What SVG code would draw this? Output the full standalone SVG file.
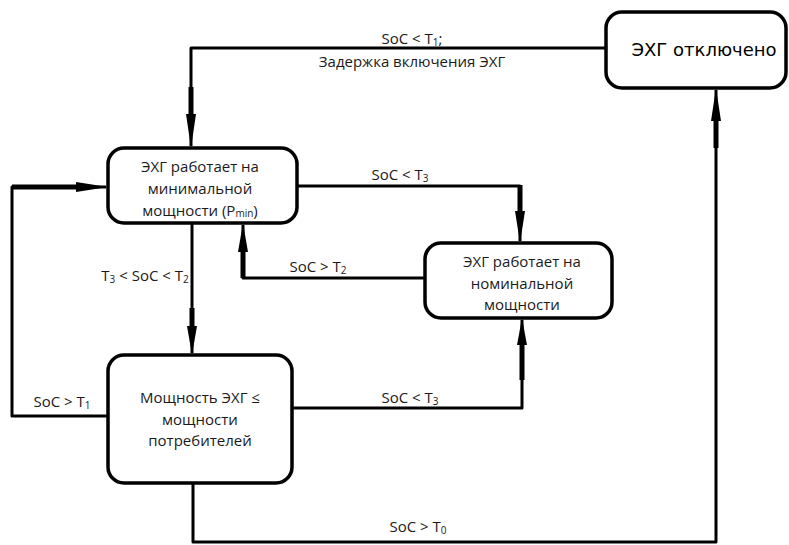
<svg xmlns="http://www.w3.org/2000/svg" width="789" height="545" viewBox="0 0 789 545">
<style>
.box{fill:#fff;stroke:#000;stroke-width:3.5}
.t{font-family:"Open Sans","Noto Sans",sans-serif;font-size:15px;fill:#1a1a1a;text-anchor:middle}
.s{font-size:10px}
.big{font-family:"DejaVu Sans",sans-serif;font-size:18px;fill:#000;text-anchor:middle}
.ln{fill:none;stroke:#000;stroke-width:3;stroke-linejoin:round}
.th{fill:none;stroke:#000;stroke-width:5}
.hd{fill:#000}
</style>
<rect width="789" height="545" fill="#fff"/>
<g id="connectors">
  <polyline class="ln" points="606,48 191,48 191,146"/>
  <line class="th" x1="191" y1="87" x2="191" y2="118"/>
  <polygon class="hd" points="186,114 196,114 191,148"/>
  <polyline class="ln" points="297,186 520,186 520,241"/>
  <line class="th" x1="520" y1="185" x2="520" y2="215"/>
  <polygon class="hd" points="515,211 525,211 520,243"/>
  <polyline class="ln" points="425,278 243,278 243,225"/>
  <line class="th" x1="243" y1="278" x2="243" y2="248"/>
  <polygon class="hd" points="238,252 248,252 243,223"/>
  <polyline class="ln" points="192,223 192,353"/>
  <line class="th" x1="192" y1="308" x2="192" y2="330"/>
  <polygon class="hd" points="187,326 197,326 192,355"/>
  <polyline class="ln" points="108,416 12,416 12,187 106,187"/>
  <line class="th" x1="12" y1="187" x2="80" y2="187"/>
  <polygon class="hd" points="76,182 76,192 108,187"/>
  <polyline class="ln" points="292,408 522,408 522,320"/>
  <line class="th" x1="522" y1="380" x2="522" y2="340"/>
  <polygon class="hd" points="517,345 527,345 522,318"/>
  <polyline class="ln" points="193,483 193,542 716,542 716,90"/>
  <line class="th" x1="716" y1="148" x2="716" y2="116"/>
  <polygon class="hd" points="711,121 721,121 716,88"/>
  <text class="t" x="412" y="44">SoC &lt; T<tspan class="s" dy="2">1</tspan><tspan dy="-2">;</tspan></text>
  <text class="t" x="412" y="67">Задержка включения ЭХГ</text>
  <text class="t" x="400" y="180">SoC &lt; T<tspan class="s" dy="2">3</tspan></text>
  <text class="t" x="318" y="272">SoC &gt; T<tspan class="s" dy="2">2</tspan></text>
  <text class="t" x="145" y="281">T<tspan class="s" dy="2">3</tspan><tspan dy="-2"> &lt; SoC &lt; T</tspan><tspan class="s" dy="2">2</tspan></text>
  <text class="t" x="62" y="407">SoC &gt; T<tspan class="s" dy="2">1</tspan></text>
  <text class="t" x="410" y="403">SoC &lt; T<tspan class="s" dy="2">3</tspan></text>
  <text class="t" x="418" y="532">SoC &gt; T<tspan class="s" dy="2">0</tspan></text>
</g>
<g id="node-off">
  <rect class="box" x="606" y="12" width="180" height="76" rx="16"/>
  <text class="big" x="704" y="56">ЭХГ отключено</text>
</g>
<g id="node-min">
  <rect class="box" x="108" y="148" width="189" height="75" rx="16"/>
  <text class="t" x="200" y="172">ЭХГ работает на</text>
  <text class="t" x="200" y="194">минимальной</text>
  <text class="t" x="200" y="216">мощности (P<tspan class="s" dy="1">min</tspan><tspan dy="-1">)</tspan></text>
</g>
<g id="node-nom">
  <rect class="box" x="425" y="243" width="187" height="75" rx="16"/>
  <text class="t" x="522" y="267">ЭХГ работает на</text>
  <text class="t" x="522" y="289">номинальной</text>
  <text class="t" x="522" y="310">мощности</text>
</g>
<g id="node-load">
  <rect class="box" x="108" y="355" width="184" height="128" rx="16"/>
  <text class="t" x="200" y="403">Мощность ЭХГ ≤</text>
  <text class="t" x="200" y="425">мощности</text>
  <text class="t" x="200" y="446">потребителей</text>
</g>
</svg>
